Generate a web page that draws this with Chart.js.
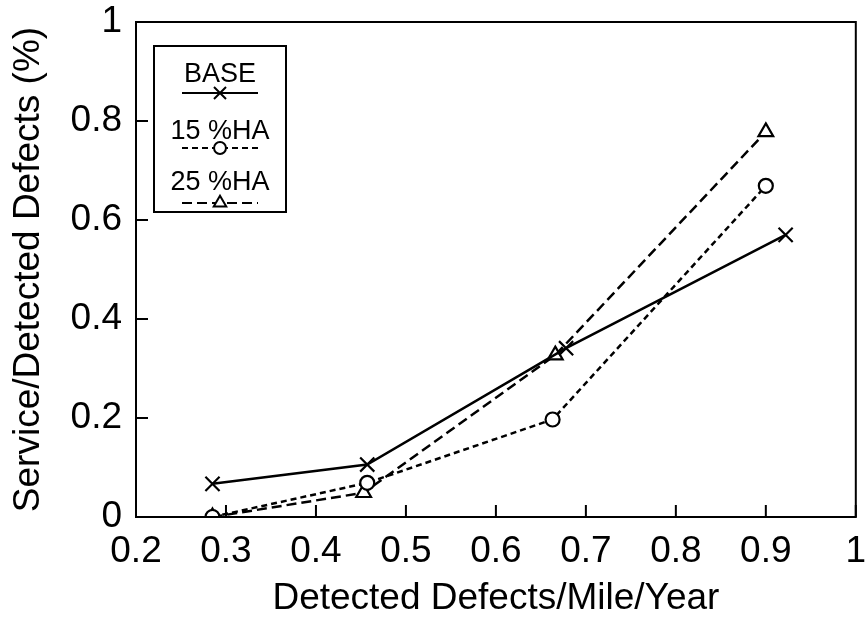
<!DOCTYPE html>
<html>
<head>
<meta charset="utf-8">
<script src="https://cdn.jsdelivr.net/npm/chart.js@4.4.1/dist/chart.umd.min.js"></script>
<style>
  html, body { margin: 0; padding: 0; background: #fff; }
  canvas { display: block; }
</style>
</head>
<body>
<canvas id="chart" width="868" height="624"></canvas>
<script>
// Dados
const seriesNames = ['BASE', '15 %HA', '25 %HA'];

const baseX = [0.285, 0.457, 0.678, 0.922];
const baseY = [0.067, 0.106, 0.341, 0.57];

const ha15X = [0.285, 0.457, 0.663, 0.9];
const ha15Y = [0, 0.069, 0.197, 0.669];

const ha25X = [0.285, 0.453, 0.666, 0.9];
const ha25Y = [0, 0.049, 0.327, 0.778];

const xTicks = [0.2, 0.3, 0.4, 0.5, 0.6, 0.7, 0.8, 0.9, 1];
const xTickLabels = ['0.2', '0.3', '0.4', '0.5', '0.6', '0.7', '0.8', '0.9', '1'];
const yTicks = [0, 0.2, 0.4, 0.6, 0.8, 1];
const yTickLabels = ['0', '0.2', '0.4', '0.6', '0.8', '1'];

const FONT = "'Liberation Sans', Arial, Helvetica, sans-serif";

function toPoints(xs, ys) {
  return xs.map((x, i) => ({ x: x, y: ys[i] }));
}

// Estilo de cada série
const datasets = [
  {
    label: seriesNames[0],
    data: toPoints(baseX, baseY),
    borderColor: '#000',
    borderWidth: 2.5,
    pointStyle: 'crossRot',
    pointRadius: 10,
    pointBorderWidth: 2.2,
    pointBorderColor: '#000',
    pointBackgroundColor: '#fff'
  },
  {
    label: seriesNames[1],
    data: toPoints(ha15X, ha15Y),
    borderColor: '#000',
    borderWidth: 2.5,
    borderDash: [6, 4],
    pointStyle: 'circle',
    pointRadius: 7,
    pointBorderWidth: 2.2,
    pointBorderColor: '#000',
    pointBackgroundColor: '#fff'
  },
  {
    label: seriesNames[2],
    data: toPoints(ha25X, ha25Y),
    borderColor: '#000',
    borderWidth: 2.5,
    borderDash: [10, 5],
    pointStyle: 'triangle',
    pointRadius: 8.5,
    pointBorderWidth: 2.2,
    pointBorderColor: '#000',
    pointBackgroundColor: '#fff'
  }
];

// Marcadores da legenda
function drawMarker(ctx, style, cx, cy, r) {
  ctx.beginPath();
  if (style === 'crossRot') {
    const o = r * Math.SQRT1_2;
    ctx.moveTo(cx - o, cy - o); ctx.lineTo(cx + o, cy + o);
    ctx.moveTo(cx + o, cy - o); ctx.lineTo(cx - o, cy + o);
    ctx.stroke();
  } else if (style === 'circle') {
    ctx.arc(cx, cy, r, 0, Math.PI * 2);
    ctx.fill(); ctx.stroke();
  } else if (style === 'triangle') {
    const h = r * Math.sin(Math.PI / 3);
    ctx.moveTo(cx, cy - r);
    ctx.lineTo(cx + h, cy + r / 2);
    ctx.lineTo(cx - h, cy + r / 2);
    ctx.closePath();
    ctx.fill(); ctx.stroke();
  }
}

// Moldura, marcas internas e legenda
const framePlugin = {
  id: 'frame',
  afterDraw(chart) {
    const { ctx, chartArea: a, scales } = chart;
    ctx.save();
    ctx.strokeStyle = '#000';
    ctx.lineWidth = 2;
    ctx.setLineDash([]);
    ctx.strokeRect(a.left, a.top, a.width, a.height);

    const tickLen = 12;
    ctx.beginPath();
    scales.x.ticks.forEach(t => {
      const px = scales.x.getPixelForValue(t.value);
      ctx.moveTo(px, a.bottom);
      ctx.lineTo(px, a.bottom - tickLen);
    });
    scales.y.ticks.forEach(t => {
      const py = scales.y.getPixelForValue(t.value);
      ctx.moveTo(a.left, py);
      ctx.lineTo(a.left + tickLen, py);
    });
    ctx.stroke();

    // caixa da legenda
    const box = { left: 154, top: 46, right: 286, bottom: 212 };
    const cx = (box.left + box.right) / 2;
    const textY = [75, 132, 183];
    const lineY = [93, 148, 203];
    ctx.fillStyle = '#fff';
    ctx.fillRect(box.left, box.top, box.right - box.left, box.bottom - box.top);
    ctx.strokeRect(box.left, box.top, box.right - box.left, box.bottom - box.top);

    ctx.font = '27px ' + FONT;
    ctx.textAlign = 'center';
    ctx.textBaseline = 'middle';
    chart.data.datasets.forEach((ds, i) => {
      ctx.fillStyle = '#000';
      ctx.fillText(ds.label, cx, textY[i]);
      ctx.lineWidth = 2;
      ctx.setLineDash(ds.borderDash || []);
      ctx.beginPath();
      ctx.moveTo(cx - 38, lineY[i]);
      ctx.lineTo(cx + 38, lineY[i]);
      ctx.stroke();
      ctx.setLineDash([]);
      ctx.fillStyle = '#fff';
      drawMarker(ctx, ds.pointStyle, cx, lineY[i], ds.pointRadius * 0.85);
    });
    ctx.restore();
  }
};

const ctx = document.getElementById('chart').getContext('2d');
const chart = new Chart(ctx, {
  type: 'line',
  data: { datasets: datasets },
  options: {
    responsive: false,
    devicePixelRatio: 1,
    animation: false,
    layout: { padding: { top: 22, right: -5, left: 0, bottom: 0 } },
    plugins: {
      legend: { display: false },
      tooltip: { enabled: false }
    },
    scales: {
      x: {
        type: 'linear',
        min: 0.2,
        max: 1,
        afterBuildTicks: s => { s.ticks = xTicks.map(v => ({ value: v })); },
        afterFit: s => { s.height = 107; s.paddingLeft = 0; s.paddingRight = 0; },
        grid: { display: false },
        border: { display: false },
        ticks: {
          autoSkip: false,
          maxRotation: 0,
          padding: 5,
          color: '#000',
          font: { family: FONT, size: 37 },
          callback: (v, i) => xTickLabels[i]
        },
        title: {
          display: true,
          text: 'Detected Defects/Mile/Year',
          color: '#000',
          font: { family: FONT, size: 37 },
          padding: { top: 0, bottom: 3 }
        }
      },
      y: {
        type: 'linear',
        min: 0,
        max: 1,
        afterBuildTicks: s => { s.ticks = yTicks.map(v => ({ value: v })); },
        afterFit: s => { s.width = 136; s.paddingTop = 0; s.paddingBottom = 0; },
        grid: { display: false },
        border: { display: false },
        ticks: {
          autoSkip: false,
          padding: 6,
          color: '#000',
          font: { family: FONT, size: 37 },
          callback: (v, i) => yTickLabels[i]
        },
        title: {
          display: true,
          text: 'Service/Detected Defects (%)',
          color: '#000',
          font: { family: FONT, size: 37 },
          padding: { top: 7, bottom: 0 }
        }
      }
    }
  },
  plugins: [framePlugin]
});
</script>
</body>
</html>
